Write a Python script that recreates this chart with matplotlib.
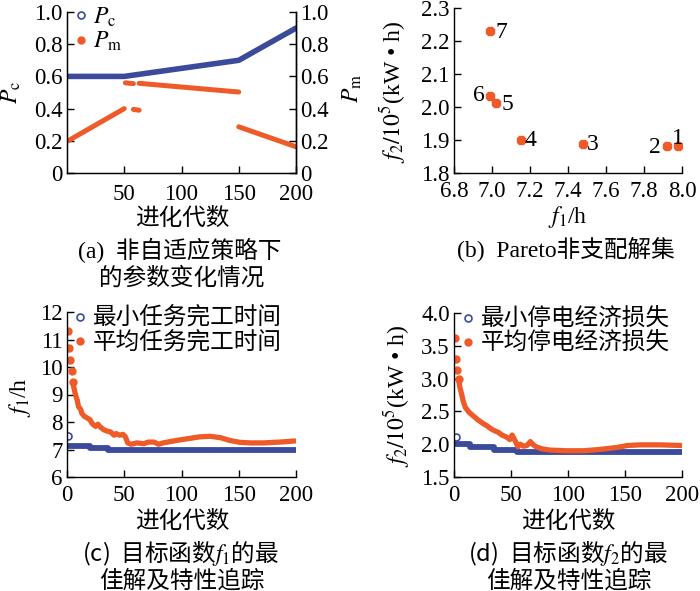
import matplotlib
matplotlib.use("Agg")
import matplotlib.pyplot as plt
from matplotlib.lines import Line2D

plt.rcParams['font.family'] = ['Liberation Serif', 'Noto Sans CJK SC']
plt.rcParams['mathtext.fontset'] = 'stix'
plt.rcParams['axes.unicode_minus'] = False

BLUE = '#3c4a9b'
ORANGE = '#ef5a29'
CJK = 'Noto Sans CJK SC'

# (a) 非自适应策略下的参数变化
pc_gen = [1, 50, 150, 200]
pc_val = [0.60, 0.60, 0.70, 0.90]
pm_segments = [
    ([1, 50], [0.20, 0.40]),
    ([51, 58], [0.560, 0.555]),
    ([58, 63], [0.395, 0.390]),
    ([63, 150], [0.557, 0.503]),
    ([150, 200], [0.287, 0.163]),
]

# (b) Pareto 非支配解集
pareto_id = ['1', '2', '3', '4', '5', '6', '7']
pareto_f1 = [7.98, 7.92, 7.48, 7.15, 7.02, 6.99, 6.99]
pareto_f2 = [1.881, 1.881, 1.888, 1.899, 2.012, 2.034, 2.229]

# (c) 目标函数 f1
c_min_first = (1, 7.48)
c_min_gen = [1, 20, 36, 200]
c_min_val = [7.13, 7.05, 6.99, 6.99]
c_mean_first_gen = [1, 2, 3, 4, 5]
c_mean_first_val = [11.30, 10.68, 10.25, 9.85, 9.46]
c_mean_gen = [5, 6, 7, 8, 9, 10, 12, 13, 15, 17, 20, 22, 25, 27, 29, 32, 35, 38, 41,
              43, 46, 49, 51, 53, 56, 61, 67, 71, 76, 80, 84, 93, 105, 116, 125, 134,
              142, 151, 160, 172, 186, 199]
c_mean_val = [9.46, 9.25, 9.06, 8.91, 8.79, 8.57, 8.45, 8.31, 8.21, 8.16, 8.09, 7.94,
              7.84, 7.92, 7.82, 7.72, 7.67, 7.64, 7.52, 7.58, 7.52, 7.55, 7.46, 7.24,
              7.19, 7.24, 7.21, 7.27, 7.27, 7.19, 7.24, 7.31, 7.39, 7.46, 7.48, 7.43,
              7.33, 7.26, 7.24, 7.24, 7.27, 7.31]

# (d) 目标函数 f2
d_min_first = (2, 2.11)
d_min_gen = [1, 14, 35, 55, 200]
d_min_val = [2.01, 1.95, 1.91, 1.88, 1.88]
d_mean_first_gen = [1, 2, 3, 4]
d_mean_first_val = [3.62, 3.30, 3.13, 3.00]
d_mean_gen = [4, 5, 7, 8, 10, 13, 17, 21, 26, 29, 32, 35, 39, 42, 46, 49, 51, 54, 56,
              58, 61, 64, 67, 69, 72, 77, 84, 99, 114, 128, 143, 152, 163, 181, 200]
d_mean_val = [3.00, 2.88, 2.74, 2.66, 2.56, 2.49, 2.43, 2.37, 2.31, 2.28, 2.24, 2.21,
              2.18, 2.14, 2.11, 2.07, 2.14, 2.04, 1.96, 2.00, 1.97, 1.98, 2.04, 2.00,
              1.96, 1.93, 1.91, 1.90, 1.90, 1.92, 1.95, 1.98, 1.99, 1.99, 1.98]

W, H = 700, 591
fig = plt.figure(figsize=(7, 5.91), dpi=100)

TICK = 16.5
LAB = 17


def box(x0, y0, x1, y1):
    # pixel box (top-left origin) -> figure fraction
    return [x0 / W, 1 - y1 / H, (x1 - x0) / W, (y1 - y0) / H]


def ftext(x, y, s, **kw):
    kw.setdefault('ha', 'center')
    kw.setdefault('va', 'center')
    fig.text(x / W, 1 - y / H, s, **kw)


def style(ax, right=False):
    ax.spines['top'].set_visible(False)
    if not right:
        ax.spines['right'].set_visible(False)
    for sp in ax.spines.values():
        sp.set_linewidth(1.0)
    ax.tick_params(direction='in', length=5, width=1, labelsize=TICK, pad=3)


# ---------- (a)
axa = fig.add_axes(box(67, 12, 296, 173))
axa.plot(pc_gen, pc_val, color=BLUE, lw=4.0, solid_capstyle='round')
for gx, gy in pm_segments:
    axa.plot(gx, gy, color=ORANGE, lw=3.6, solid_capstyle='round')
axa.set_xlim(0, 200)
axa.set_ylim(0, 1)
axa.set_xticks([50, 100, 150, 200])
yt = [0, 0.2, 0.4, 0.6, 0.8, 1.0]
ylab = ['0', '0.2', '0.4', '0.6', '0.8', '1.0']
axa.set_yticks(yt)
axa.set_yticklabels(ylab)
style(axa, right=True)
axa.tick_params(axis='x', pad=8)
axr = axa.twinx()
axr.set_ylim(0, 1)
axr.set_yticks(yt)
axr.set_yticklabels(ylab)
axr.spines['top'].set_visible(False)
axr.spines['right'].set_linewidth(1.0)
axr.tick_params(direction='in', length=5, width=1, labelsize=TICK, pad=3)
h_pc = Line2D([], [], ls='none', marker='o', ms=5, mfc='none', mec=BLUE, mew=1.2)
h_pm = Line2D([], [], ls='none', marker='o', ms=5, color=ORANGE)
axa.legend([h_pc, h_pm], [r'$P_\mathrm{c}$', r'$P_\mathrm{m}$'], loc='upper left',
           bbox_to_anchor=(0.03, 1.04), frameon=False, handlelength=0.6,
           handletextpad=0.2, labelspacing=0.05, borderpad=0, borderaxespad=0,
           fontsize=LAB)
ftext(11, 92, r'$P_\mathrm{c}$', rotation=90, fontsize=LAB)
ftext(352, 88, r'$P_\mathrm{m}$', rotation=90, fontsize=LAB)
ftext(182, 219, '进化代数', fontsize=LAB)
ftext(180, 250, '(a)  非自适应策略下', fontsize=LAB)
ftext(182, 278, '的参数变化情况', fontsize=LAB)

# ---------- (b)
axb = fig.add_axes(box(454, 8, 682, 173))
axb.plot(pareto_f1, pareto_f2, ls='none', marker='8', ms=6, color=ORANGE)
offsets = {'1': (0.0, 0.025, 'center'), '2': (-0.03, -0.003, 'right'),
           '3': (0.02, -0.003, 'left'), '4': (0.02, -0.002, 'left'),
           '5': (0.03, -0.003, 'left'), '6': (-0.03, 0.002, 'right'),
           '7': (0.03, -0.003, 'left')}
for lbl, x, y in zip(pareto_id, pareto_f1, pareto_f2):
    dx, dy, ha = offsets[lbl]
    axb.text(x + dx, y + dy, lbl, ha=ha, va='center', fontsize=LAB)
axb.set_xlim(6.8, 8.0)
axb.set_ylim(1.8, 2.3)
axb.set_xticks([6.8, 7.0, 7.2, 7.4, 7.6, 7.8, 8.0])
axb.set_xticklabels(['6.8', '7.0', '7.2', '7.4', '7.6', '7.8', '8.0'])
axb.set_yticks([1.8, 1.9, 2.0, 2.1, 2.2, 2.3])
axb.set_yticklabels(['1.8', '1.9', '2.0', '2.1', '2.2', '2.3'])
style(axb)
axb.tick_params(axis='x', pad=6)
ftext(393, 92, r'$f_2/10^5$(kW • h)', rotation=90, fontsize=LAB)
ftext(568, 217, r'$f_1$/h', fontsize=LAB)
ftext(566, 249, '(b)  Pareto非支配解集', fontsize=LAB)

# ---------- (c)
axc = fig.add_axes(box(67, 312, 296, 477))
axc.plot(c_min_gen, c_min_val, color=BLUE, lw=4.2, drawstyle='steps-post',
         solid_capstyle='round')
axc.plot([c_min_first[0]], [c_min_first[1]], ls='none', marker='o', ms=5,
         mfc='none', mec=BLUE, mew=1.2, label='最小任务完工时间')
axc.plot(c_mean_first_gen, c_mean_first_val, ls='none', marker='o', ms=5,
         color=ORANGE, label='平均任务完工时间')
axc.plot(c_mean_gen, c_mean_val, color=ORANGE, lw=3.8, solid_capstyle='round',
         solid_joinstyle='round')
axc.set_xlim(0, 200)
axc.set_ylim(6, 12)
axc.set_xticks([0, 50, 100, 150, 200])
axc.set_yticks([6, 7, 8, 9, 10, 11, 12])
style(axc)
axc.tick_params(axis='x', pad=6)
axc.legend(loc='upper left', bbox_to_anchor=(0.025, 1.03), frameon=False,
           handlelength=0.6, handletextpad=0.25, labelspacing=0.05, borderpad=0,
           borderaxespad=0, prop={'family': CJK, 'size': LAB})
ftext(20, 397, r'$f_1$/h', rotation=90, fontsize=LAB)
ftext(182, 522, '进化代数', fontsize=LAB)
ftext(181, 553, '(c)  目标函数$f_1$的最', fontsize=LAB, family=CJK)
ftext(182, 581, '佳解及特性追踪', fontsize=LAB)

# ---------- (d)
axd = fig.add_axes(box(454, 313, 682, 477))
axd.plot(d_min_gen, d_min_val, color=BLUE, lw=4.2, drawstyle='steps-post',
         solid_capstyle='round')
axd.plot([d_min_first[0]], [d_min_first[1]], ls='none', marker='o', ms=5,
         mfc='none', mec=BLUE, mew=1.2, label='最小停电经济损失')
axd.plot(d_mean_first_gen, d_mean_first_val, ls='none', marker='o', ms=5,
         color=ORANGE, label='平均停电经济损失')
axd.plot(d_mean_gen, d_mean_val, color=ORANGE, lw=3.8, solid_capstyle='round',
         solid_joinstyle='round')
axd.set_xlim(0, 200)
axd.set_ylim(1.5, 4.0)
axd.set_xticks([0, 50, 100, 150, 200])
axd.set_yticks([1.5, 2.0, 2.5, 3.0, 3.5, 4.0])
axd.set_yticklabels(['1.5', '2.0', '2.5', '3.0', '3.5', '4.0'])
style(axd)
axd.tick_params(axis='x', pad=6)
axd.legend(loc='upper left', bbox_to_anchor=(0.03, 1.03), frameon=False,
           handlelength=0.6, handletextpad=0.25, labelspacing=0.05, borderpad=0,
           borderaxespad=0, prop={'family': CJK, 'size': LAB})
ftext(397, 396, r'$f_2/10^5$(kW • h)', rotation=90, fontsize=LAB)
ftext(568, 522, '进化代数', fontsize=LAB)
ftext(568, 553, '(d)  目标函数$f_2$的最', fontsize=LAB, family=CJK)
ftext(569, 581, '佳解及特性追踪', fontsize=LAB)

fig.savefig('out.png', dpi=100)
